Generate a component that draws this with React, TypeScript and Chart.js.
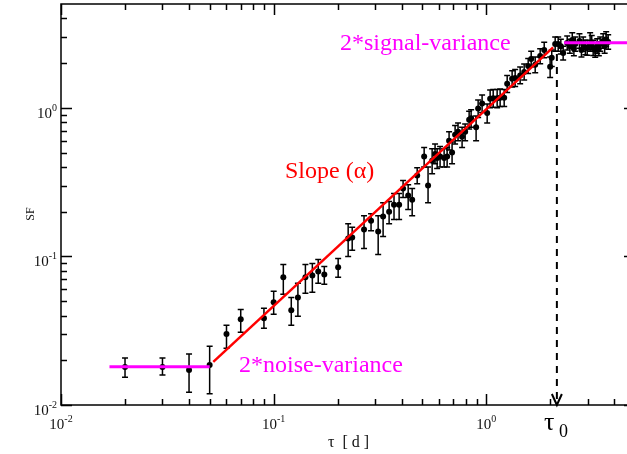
import React, { useEffect, useRef } from "react";
import { Chart, registerables } from "chart.js";

Chart.register(...registerables);

// ---- data ----
const tau = [0.020, 0.030, 0.040, 0.050, 0.060, 0.070, 0.090, 0.100, 0.111, 0.121, 0.130, 0.141, 0.152, 0.162, 0.173, 0.201, 0.224, 0.234, 0.266, 0.287, 0.310, 0.327, 0.349, 0.368, 0.389, 0.406, 0.429, 0.448, 0.473, 0.510, 0.532, 0.556, 0.574, 0.587, 0.606, 0.633, 0.654, 0.668, 0.690, 0.713, 0.736, 0.769, 0.795, 0.830, 0.848, 0.895, 0.915, 0.955, 1.009, 1.042, 1.077, 1.124, 1.161, 1.213, 1.253, 1.322, 1.366, 1.442, 1.506, 1.573, 1.625, 1.697, 1.791, 1.871, 1.995, 2.030, 2.107, 2.177, 2.240, 2.297, 2.400, 2.470, 2.535, 2.580, 2.620, 2.740, 2.800, 2.853, 2.920, 2.980, 3.077, 3.130, 3.179, 3.250, 3.321, 3.380, 3.430, 3.543, 3.600, 3.659, 3.740];
const sf = [0.0180, 0.0180, 0.0172, 0.0186, 0.0300, 0.0378, 0.0384, 0.0491, 0.0723, 0.0434, 0.0530, 0.0723, 0.0745, 0.0793, 0.0757, 0.0844, 0.132, 0.134, 0.152, 0.174, 0.147, 0.186, 0.200, 0.223, 0.223, 0.286, 0.257, 0.241, 0.350, 0.470, 0.300, 0.440, 0.490, 0.460, 0.470, 0.460, 0.470, 0.600, 0.500, 0.660, 0.690, 0.640, 0.690, 0.830, 0.850, 0.740, 0.990, 1.070, 0.925, 1.150, 1.160, 1.160, 1.170, 1.170, 1.450, 1.570, 1.590, 1.650, 1.740, 1.910, 2.130, 1.950, 2.230, 2.450, 1.890, 2.170, 2.690, 2.690, 2.600, 2.340, 2.730, 2.600, 2.860, 2.500, 2.690, 2.820, 2.450, 2.690, 2.550, 2.530, 2.690, 2.750, 2.530, 2.450, 2.600, 2.500, 2.690, 2.820, 2.600, 2.900, 2.770];
const sfLow = [0.0154, 0.0159, 0.0122, 0.0119, 0.0241, 0.0309, 0.0329, 0.0408, 0.0556, 0.0344, 0.0396, 0.0565, 0.0574, 0.0659, 0.0649, 0.0723, 0.100, 0.110, 0.113, 0.149, 0.103, 0.136, 0.166, 0.177, 0.177, 0.249, 0.207, 0.188, 0.309, 0.400, 0.230, 0.360, 0.420, 0.390, 0.400, 0.400, 0.400, 0.520, 0.420, 0.570, 0.600, 0.540, 0.600, 0.720, 0.740, 0.600, 0.860, 0.930, 0.790, 1.000, 1.010, 1.000, 1.020, 1.020, 1.270, 1.380, 1.390, 1.450, 1.540, 1.700, 1.890, 1.720, 1.980, 2.170, 1.600, 1.900, 2.400, 2.400, 2.300, 2.100, 2.450, 2.330, 2.550, 2.240, 2.400, 2.520, 2.200, 2.400, 2.280, 2.260, 2.400, 2.460, 2.250, 2.190, 2.320, 2.240, 2.400, 2.520, 2.330, 2.600, 2.480];
const sfHigh = [0.0207, 0.0207, 0.0220, 0.0249, 0.0344, 0.0440, 0.0448, 0.0582, 0.0883, 0.0530, 0.0659, 0.0883, 0.0897, 0.0955, 0.0857, 0.0970, 0.166, 0.157, 0.188, 0.194, 0.188, 0.230, 0.234, 0.265, 0.265, 0.324, 0.304, 0.286, 0.395, 0.540, 0.400, 0.530, 0.570, 0.530, 0.550, 0.530, 0.540, 0.690, 0.590, 0.760, 0.790, 0.740, 0.780, 0.950, 0.970, 0.880, 1.130, 1.220, 1.060, 1.320, 1.330, 1.330, 1.340, 1.330, 1.650, 1.780, 1.810, 1.880, 1.970, 2.150, 2.400, 2.200, 2.500, 2.760, 2.200, 2.450, 3.000, 3.000, 2.900, 2.600, 3.050, 2.900, 3.200, 2.790, 3.000, 3.150, 2.730, 3.000, 2.850, 2.850, 3.200, 3.070, 2.850, 2.740, 2.920, 2.790, 3.000, 3.150, 2.900, 3.250, 3.100];

const slopeTau = [0.052, 2.06];
const slopeSF = [0.0195, 2.55];
const noiseTau = [0.0169, 0.050];
const noiseSF = [0.0181, 0.0181];
const signalTau = [2.32, 5];
const signalSF = [2.74, 2.74];
const tau0 = 2.146;
const tau0TopSF = 2.3;

const majorExps = [-2, -1, 0];
const minorMults = [2, 3, 4, 5, 6, 7, 8, 9];
const X_MIN = 0.01, X_MAX = 5, Y_MIN = 0.01, Y_MAX = 5;

const SERIF = '"Liberation Serif", "Times New Roman", serif';

function allTicks(min: number, max: number) {
  const major: number[] = [];
  const minor: number[] = [];
  for (let e = -3; e <= 1; e++) {
    const base = Math.pow(10, e);
    if (base >= min * 0.999 && base <= max * 1.001) major.push(base);
    for (const m of minorMults) {
      const v = m * base;
      if (v > min * 1.001 && v < max * 0.999) minor.push(v);
    }
  }
  return { major, minor };
}

const decor = {
  id: "decor",
  beforeDatasetsDraw(chart: any) {
    const { ctx, scales } = chart;
    const x = scales.x, y = scales.y;
    ctx.save();
    ctx.strokeStyle = "#000";
    ctx.lineWidth = 1.5;
    for (let i = 0; i < tau.length; i++) {
      const px = x.getPixelForValue(tau[i]);
      const pl = y.getPixelForValue(sfLow[i]);
      const ph = y.getPixelForValue(sfHigh[i]);
      ctx.beginPath();
      ctx.moveTo(px, pl); ctx.lineTo(px, ph);
      ctx.moveTo(px - 3, pl); ctx.lineTo(px + 3, pl);
      ctx.moveTo(px - 3, ph); ctx.lineTo(px + 3, ph);
      ctx.stroke();
    }
    ctx.restore();
  },
  afterDraw(chart: any) {
    const { ctx, chartArea: a, scales } = chart;
    const x = scales.x, y = scales.y;
    ctx.save();
    // frame
    ctx.strokeStyle = "#000";
    ctx.lineWidth = 1.5;
    ctx.strokeRect(a.left, a.top, a.right - a.left, a.bottom - a.top);
    const MAJ = 11, MIN = 6;
    const xt = allTicks(X_MIN, X_MAX);
    const yt = allTicks(Y_MIN, Y_MAX);
    ctx.beginPath();
    for (const [list, len] of [[xt.major, MAJ], [xt.minor, MIN]] as [number[], number][]) {
      for (const v of list) {
        const px = Math.round(x.getPixelForValue(v)) + 0.5;
        ctx.moveTo(px, a.bottom); ctx.lineTo(px, a.bottom - len);
        ctx.moveTo(px, a.top); ctx.lineTo(px, a.top + len);
      }
    }
    for (const [list, len] of [[yt.major, MAJ], [yt.minor, MIN]] as [number[], number][]) {
      for (const v of list) {
        const py = Math.round(y.getPixelForValue(v)) + 0.5;
        ctx.moveTo(a.left, py); ctx.lineTo(a.left + len, py);
        ctx.moveTo(a.right, py); ctx.lineTo(a.right - len, py);
      }
    }
    ctx.stroke();

    // tick labels
    ctx.fillStyle = "#111";
    ctx.textBaseline = "alphabetic";
    ctx.textAlign = "left";
    const bigF = `15px ${SERIF}`, supF = `10px ${SERIF}`;
    for (const e of majorExps) {
      const exp = String(e);
      ctx.font = bigF; const w10 = ctx.measureText("10").width;
      ctx.font = supF; const we = ctx.measureText(exp).width;
      // y labels
      const py = y.getPixelForValue(Math.pow(10, e));
      const sx = a.left - 4 - we - w10;
      ctx.font = bigF; ctx.fillText("10", sx, py + 10);
      ctx.font = supF; ctx.fillText(exp, sx + w10, py + 3);
      // x labels
      const px = x.getPixelForValue(Math.pow(10, e));
      const tx = px - (w10 + we) / 2;
      ctx.font = bigF; ctx.fillText("10", tx, a.bottom + 24);
      ctx.font = supF; ctx.fillText(exp, tx + w10, a.bottom + 17);
    }

    // axis titles
    ctx.font = `16px ${SERIF}`;
    ctx.fillText("τ  [ d ]", 328, 447);
    ctx.save();
    ctx.translate(34, 214);
    ctx.rotate(-Math.PI / 2);
    ctx.textAlign = "center";
    ctx.font = `12px ${SERIF}`;
    ctx.fillText("SF", 0, 0);
    ctx.restore();

    // annotations
    ctx.font = `24px ${SERIF}`;
    ctx.fillStyle = "#ff00ff";
    ctx.fillText("2*signal-variance", 340, 50);
    ctx.fillText("2*noise-variance", 239, 372);
    ctx.fillStyle = "#ff0000";
    ctx.fillText("Slope (α)", 285, 178);

    ctx.fillStyle = "#000";
    ctx.font = `26px ${SERIF}`;
    ctx.fillText("τ", 544, 430);
    ctx.font = `18px ${SERIF}`;
    ctx.fillText("0", 559, 437);

    // arrow head of tau0 marker
    const ax = x.getPixelForValue(tau0);
    const ay = a.bottom;
    ctx.lineWidth = 2;
    ctx.beginPath();
    ctx.moveTo(ax - 5, ay - 11); ctx.lineTo(ax, ay); ctx.lineTo(ax + 5, ay - 11);
    ctx.stroke();
    ctx.restore();
  },
};

export default function App() {
  const ref = useRef<HTMLCanvasElement>(null);
  useEffect(() => {
    if (!ref.current) return;
    const pts = tau.map((t, i) => ({ x: t, y: sf[i] }));
    const chart = new Chart(ref.current, {
      type: "scatter",
      data: {
        datasets: [
          {
            label: "SF",
            data: pts,
            showLine: false,
            pointRadius: 3,
            pointBackgroundColor: "#000",
            pointBorderWidth: 0,
            order: 3,
          } as any,
          {
            label: "slope",
            data: slopeTau.map((t, i) => ({ x: t, y: slopeSF[i] })),
            showLine: true,
            borderColor: "#ff0000",
            borderWidth: 2.5,
            pointRadius: 0,
            order: 1,
          },
          {
            label: "noise",
            data: noiseTau.map((t, i) => ({ x: t, y: noiseSF[i] })),
            showLine: true,
            borderColor: "#ff00ff",
            borderWidth: 3,
            pointRadius: 0,
            order: 1,
          },
          {
            label: "signal",
            data: signalTau.map((t, i) => ({ x: t, y: signalSF[i] })),
            showLine: true,
            borderColor: "#ff00ff",
            borderWidth: 3,
            pointRadius: 0,
            order: 1,
          },
          {
            label: "tau0",
            data: [{ x: tau0, y: tau0TopSF }, { x: tau0, y: Y_MIN }],
            showLine: true,
            borderColor: "#000",
            borderWidth: 2,
            borderDash: [7, 6],
            pointRadius: 0,
            order: 2,
          },
        ],
      },
      options: {
        responsive: false,
        animation: false,
        devicePixelRatio: 1,
        layout: { padding: { left: 61, right: 5, top: 3, bottom: 49 } },
        plugins: { legend: { display: false }, tooltip: { enabled: false } },
        scales: {
          x: { type: "logarithmic", min: X_MIN, max: X_MAX, display: false },
          y: { type: "logarithmic", min: Y_MIN, max: Y_MAX, display: false },
        },
      },
      plugins: [decor],
    });
    return () => chart.destroy();
  }, []);
  return (
    <div style={{ position: "fixed", left: 0, top: 0, width: 627, height: 454, overflow: "hidden", background: "#fff" }}>
      <canvas ref={ref} width={640} height={454} style={{ display: "block", width: 640, height: 454 }} />
    </div>
  );
}
